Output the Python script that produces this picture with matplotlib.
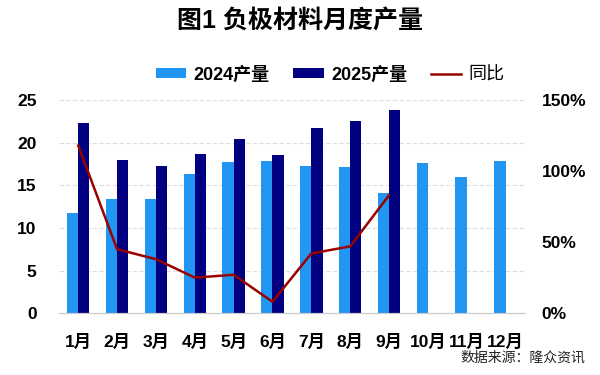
import numpy as np
import matplotlib
matplotlib.use('Agg')
import matplotlib.pyplot as plt
from matplotlib.ticker import FuncFormatter

plt.rcParams['font.family'] = ['Liberation Sans', 'Noto Sans CJK SC', 'DejaVu Sans']

months = ['1月', '2月', '3月', '4月', '5月', '6月', '7月', '8月', '9月', '10月', '11月', '12月']
prod_2024 = [11.7, 13.4, 13.4, 16.3, 17.7, 17.8, 17.3, 17.15, 14.1, 17.6, 16.0, 17.9]
prod_2025 = [22.3, 18.0, 17.3, 18.7, 20.4, 18.6, 21.7, 22.5, 23.8]
yoy = [118, 45, 38, 25, 27, 8, 42, 47, 83]

fig = plt.figure(figsize=(6, 3.75), dpi=100)
ax = fig.add_axes([0.098, 0.165, 0.777, 0.568])
ax2 = ax.twinx()

x = np.arange(len(months))
w = 0.29
ax.bar(x - w/2, prod_2024, w, color='#2196F3', label='2024产量', zorder=2)
ax.bar(x[:len(prod_2025)] + w/2, prod_2025, w, color='#000080', label='2025产量', zorder=2)
ax2.plot(x[:len(yoy)], yoy, color='#9B0000', lw=1.8, label='同比', zorder=3)

ax.set_xlim(-0.5, 11.5)
ax.set_ylim(0, 25)
ax2.set_ylim(0, 150)
ax.set_yticks([0, 5, 10, 15, 20, 25])
ax2.set_yticks([0, 50, 100, 150])
ax2.yaxis.set_major_formatter(FuncFormatter(lambda v, p: f'{v:.0f}%'))
ax.set_xticks(x)
ax.set_xticklabels(months)

ax.grid(axis='y', color='#dddddd', lw=0.8, linestyle=(0, (4, 2)), zorder=0)
for a in (ax, ax2):
    for s in ['top', 'left', 'right']:
        a.spines[s].set_visible(False)
    a.spines['bottom'].set_color('#cccccc')
ax.tick_params(axis='y', length=0, labelsize=12.5, pad=16)
ax2.tick_params(axis='y', length=0, labelsize=12.5, pad=12)
ax.tick_params(axis='x', length=0, labelsize=12.5, pad=15)
for t in ax.get_yticklabels() + ax2.get_yticklabels() + ax.get_xticklabels():
    t.set_fontweight('bold')

fig.text(0.5, 0.945, '图1 负极材料月度产量', ha='center', va='center',
         fontsize=18, fontweight='bold')

h1, l1 = ax.get_legend_handles_labels()
h2, l2 = ax2.get_legend_handles_labels()
leg = fig.legend(h1 + h2, l1 + l2, loc='center', bbox_to_anchor=(0.55, 0.8),
                 ncol=3, frameon=False, fontsize=13, handlelength=1.7,
                 handleheight=0.45, columnspacing=1.3, handletextpad=0.4)
for t in leg.get_texts()[:2]:
    t.set_fontweight('bold')

fig.text(0.975, 0.045, '数据来源：隆众资讯', ha='right', va='center', fontsize=10, color='#222222')

fig.savefig('out.png', dpi=100)
